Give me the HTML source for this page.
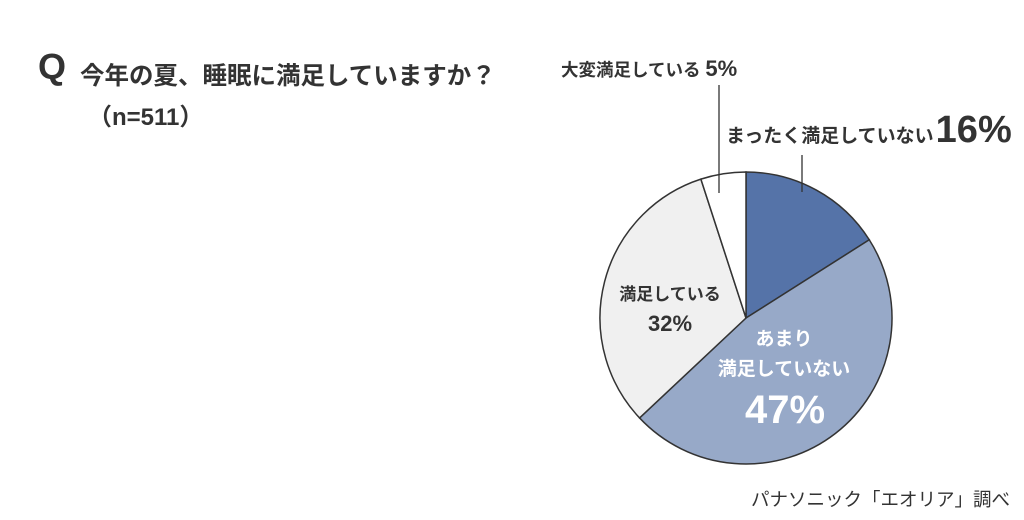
<!DOCTYPE html>
<html><head><meta charset="utf-8"><style>
body{margin:0;width:1024px;height:520px;background:#fff;overflow:hidden;font-family:"Liberation Sans","Noto Sans CJK JP",sans-serif;color:#333}
svg{position:absolute;left:0;top:0}
</style></head><body>
<svg width="1024" height="520">
<text x="38" y="79" font-size="36" font-weight="bold" fill="#333">Q</text>
<text x="80" y="84" font-size="24.5" font-weight="bold" fill="#333">今年の夏、睡眠に満足していますか？</text>
<text x="88" y="125" font-size="24" font-weight="bold" fill="#333">（n=511）</text>
<g id="slices"></g>
<line x1="719" y1="85" x2="719" y2="193" stroke="#333" stroke-width="1.3"/>
<line x1="802" y1="155" x2="802" y2="192" stroke="#333" stroke-width="1.3"/>
<text x="561" y="76" font-size="17.5" font-weight="bold" fill="#333">大変満足している <tspan font-size="22">5%</tspan></text>
<text x="726" y="142" font-size="19" font-weight="bold" fill="#333">まったく満足していない<tspan font-size="38" dx="2">16%</tspan></text>
<text x="670" y="300" font-size="17" font-weight="bold" fill="#333" text-anchor="middle">満足している</text>
<text x="670" y="331" font-size="22" font-weight="bold" fill="#333" text-anchor="middle">32%</text>
<text x="784" y="345" font-size="19" font-weight="bold" fill="#fff" text-anchor="middle">あまり</text>
<text x="784" y="375" font-size="19" font-weight="bold" fill="#fff" text-anchor="middle">満足していない</text>
<text x="785" y="423" font-size="40" font-weight="bold" fill="#fff" text-anchor="middle">47%</text>
<text x="1010" y="506" font-size="18.5" fill="#333" text-anchor="end">パナソニック「エオリア」調べ</text>
</svg>
<script>
const categories=["まったく満足していない","あまり満足していない","満足している","大変満足している"];
const values=[16,47,32,5];
const colors=["#5573a8","#97a9c8","#f0f0f0","#ffffff"];
const cx=746,cy=318,r=146;
const g=document.getElementById('slices');
const total=values.reduce((a,b)=>a+b,0);
let a0=0;
values.forEach((v,i)=>{
  const a1=a0+v/total*2*Math.PI;
  const x0=cx+r*Math.sin(a0),y0=cy-r*Math.cos(a0),x1=cx+r*Math.sin(a1),y1=cy-r*Math.cos(a1);
  const p=document.createElementNS('http://www.w3.org/2000/svg','path');
  p.setAttribute('d',`M${cx},${cy}L${x0},${y0}A${r},${r} 0 ${a1-a0>Math.PI?1:0} 1 ${x1},${y1}Z`);
  p.setAttribute('fill',colors[i]);p.setAttribute('stroke','#333');p.setAttribute('stroke-width','1.5');
  
  
  g.appendChild(p);a0=a1;
});
</script>
</body></html>
